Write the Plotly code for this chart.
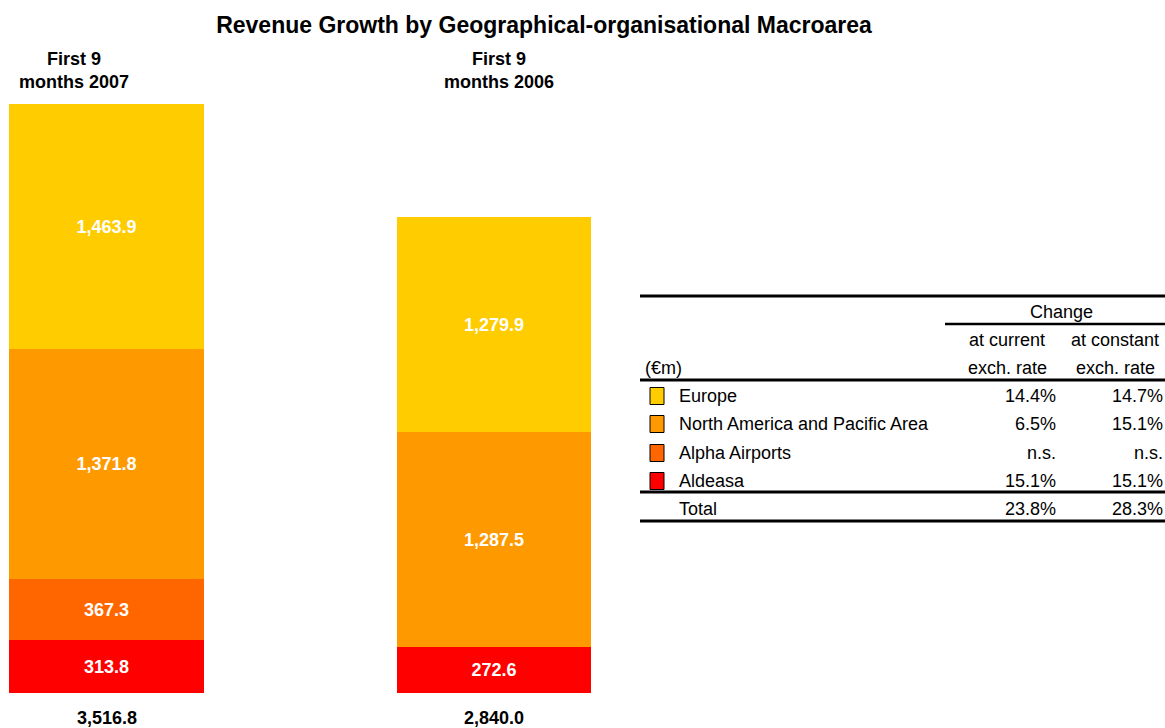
import plotly.graph_objects as go

# ---------------- data ----------------
periods = ["First 9<br>months 2007", "First 9<br>months 2006"]
segments = ["Aldeasa", "Alpha Airports", "North America and Pacific Area", "Europe"]
seg_colors = ["#FF0000", "#FF6600", "#FF9900", "#FFCC00"]
values_2007 = [313.8, 367.3, 1371.8, 1463.9]
values_2006 = [272.6, 0.0, 1287.5, 1279.9]
totals = [3516.8, 2840.0]

table_rows = ["Europe", "North America and Pacific Area", "Alpha Airports", "Aldeasa"]
table_colors = ["#FFCC00", "#FF9900", "#FF6600", "#FF0000"]
change_current = ["14.4%", "6.5%", "n.s.", "15.1%"]
change_constant = ["14.7%", "15.1%", "n.s.", "15.1%"]
total_current = "23.8%"
total_constant = "28.3%"

W, H = 1165, 728
FONT = "Liberation Sans, Arial, sans-serif"
FS = 18


def px(x):
    return x / W


def py(y):
    return 1 - y / H


fig = go.Figure()
xs = [0, 1]
for i, seg in enumerate(segments):
    vals = [values_2007[i], values_2006[i]]
    fig.add_trace(go.Bar(
        x=xs, y=vals, name=seg,
        marker=dict(color=seg_colors[i], line=dict(width=0)),
        width=0.503,
        text=[f"{v:,.1f}" if v > 0 else "" for v in vals],
        textposition="inside", insidetextanchor="middle",
        textfont=dict(color="white", size=FS, family=FONT),
        texttemplate="<b>%{text}</b>",
        showlegend=False,
    ))

# bar centres: 106.5px and 494px; spacing 387.5px
c0, step = 106.5, 387.5
x_range = [-c0 / step, (W - c0) / step]

annotations = []
# period headers
for i, (p, shift) in enumerate(zip(periods, [-33, 5])):
    annotations.append(dict(x=xs[i], xref="x", y=py(70), yref="paper",
                            text=f"<b>{p}</b>", showarrow=False, xshift=shift,
                            font=dict(size=FS, family=FONT, color="black"),
                            xanchor="center", yanchor="middle"))
# totals
for i, t in enumerate(totals):
    annotations.append(dict(x=xs[i], xref="x", y=0, yref="y", yshift=-25,
                            text=f"<b>{t:,.1f}</b>", showarrow=False,
                            font=dict(size=FS, family=FONT, color="black"),
                            xanchor="center", yanchor="middle"))

tf = dict(size=FS, family=FONT, color="black")


def txt(x, y, s, anchor):
    annotations.append(dict(x=px(x), y=py(y), xref="paper", yref="paper", text=s,
                            showarrow=False, font=tf, xanchor=anchor, yanchor="middle"))


txt(1061, 312, "Change", "center")
txt(1007, 340, "at current", "center")
txt(1115, 340, "at constant", "center")
txt(643, 368, "(€m)", "left")
txt(1007, 368, "exch. rate", "center")
txt(1115, 368, "exch. rate", "center")

row_y = [396, 424, 453, 481]
shapes = []
for r, name in enumerate(table_rows):
    y = row_y[r]
    txt(677, y, name, "left")
    txt(1058, y, change_current[r], "right")
    txt(1165, y, change_constant[r], "right")
    shapes.append(dict(type="rect", xref="paper", yref="paper",
                       x0=px(650), x1=px(664), y0=py(y + 8.5), y1=py(y - 8.5),
                       fillcolor=table_colors[r], line=dict(color="black", width=1)))
txt(677, 509, "Total", "left")
txt(1058, 509, total_current, "right")
txt(1165, 509, total_constant, "right")

for (x0, x1, y, w) in [(640, 1165, 296, 3), (945, 1165, 324, 2.5), (640, 1165, 380, 3),
                       (640, 1165, 492, 3), (640, 1165, 521, 3)]:
    shapes.append(dict(type="line", xref="paper", yref="paper",
                       x0=px(x0), x1=px(x1), y0=py(y), y1=py(y),
                       line=dict(color="black", width=w)))

fig.update_layout(
    width=W, height=H,
    barmode="stack",
    paper_bgcolor="white", plot_bgcolor="white",
    margin=dict(l=0, r=0, t=0, b=0),
    title=dict(text="<b>Revenue Growth by Geographical-organisational Macroarea</b>",
               x=px(544), y=py(25), xanchor="center", yanchor="middle",
               font=dict(size=23, family=FONT, color="black")),
    xaxis=dict(range=x_range, visible=False, domain=[0, 1], fixedrange=True),
    yaxis=dict(range=[0, max(totals)], visible=False,
               domain=[py(693), py(104)], fixedrange=True),
    annotations=annotations,
    shapes=shapes,
    font=dict(family=FONT),
)

fig.write_html("out.html",
               config={"displayModeBar": False},
               post_script="document.body.style.margin='0';document.body.style.overflow='hidden';")
